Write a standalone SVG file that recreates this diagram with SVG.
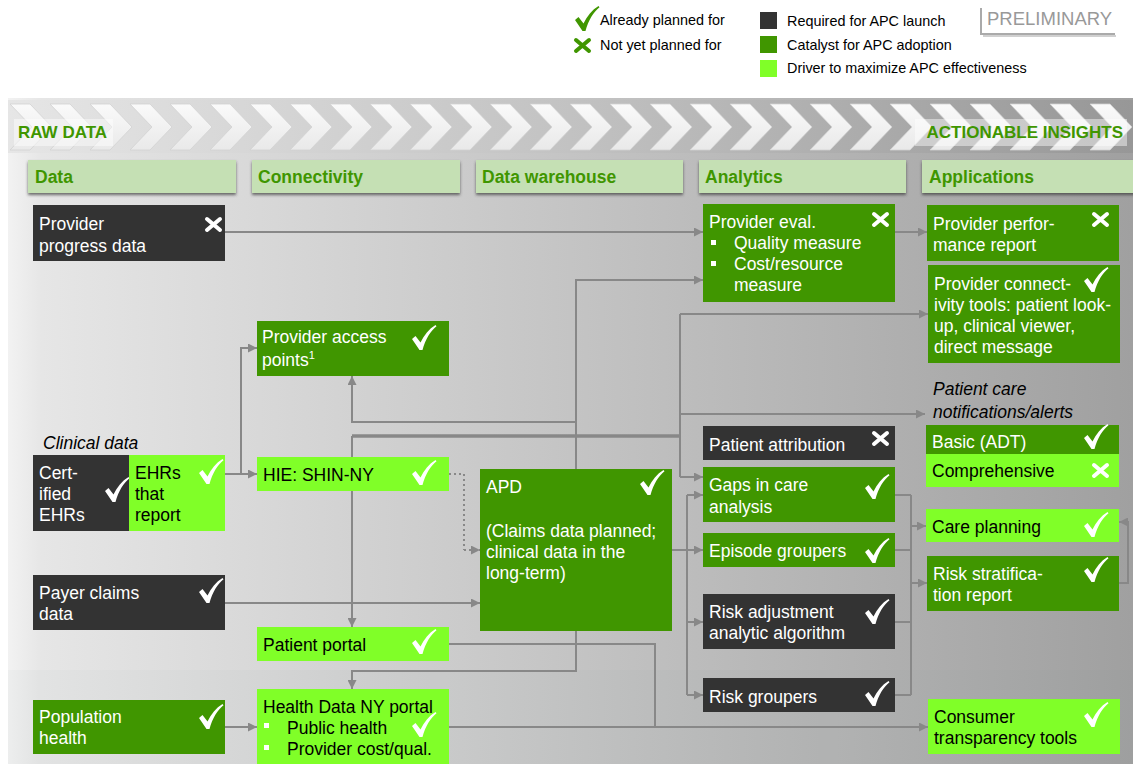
<svg xmlns="http://www.w3.org/2000/svg" xmlns:xlink="http://www.w3.org/1999/xlink" width="1133" height="764" viewBox="0 0 1133 764">
<defs>
<linearGradient id="gPanel" x1="0" y1="0" x2="1" y2="0">
<stop offset="0" stop-color="#f2f2f2"/>
<stop offset="0.03" stop-color="#e6e6e6"/>
<stop offset="0.5" stop-color="#c4c4c4"/>
<stop offset="1" stop-color="#a0a0a0"/>
</linearGradient>
<linearGradient id="gBand" x1="0" y1="0" x2="1" y2="0">
<stop offset="0" stop-color="#e6e6e6"/>
<stop offset="0.5" stop-color="#c2c2c2"/>
<stop offset="1" stop-color="#979797"/>
</linearGradient>
<linearGradient id="gChev" x1="0" y1="0" x2="0" y2="1">
<stop offset="0" stop-color="#fafafa"/>
<stop offset="1" stop-color="#e9e9e9"/>
</linearGradient>
<filter id="sh" x="-5%" y="-20%" width="110%" height="150%">
<feDropShadow dx="0" dy="2" stdDeviation="1.5" flood-color="#333" flood-opacity="0.7"/>
</filter>
<marker id="ah" markerWidth="9" markerHeight="9" refX="9" refY="4.5" orient="auto" markerUnits="userSpaceOnUse">
<path d="M0,0 L9,4.5 L0,9 Z" fill="#888"/>
</marker>
<path id="chk" d="M0,14 L3.5,11 L8.5,17.5 C12,10 17,4 23.5,0 L24.5,1.2 C18.5,6 13.5,14 10.5,25 L7.5,25 Z"/>
<path id="xm" d="M2,2 L15,13 M15,2 L2,13" fill="none" stroke-width="4" stroke-linecap="round"/>
</defs>
<style>
text{font-family:"Liberation Sans",Arial,Helvetica,sans-serif}
.n{font-size:17.5px}
.w{fill:#ffffff}
.b{fill:#000000}
.dk{fill:#333333}
.gr{fill:#409600}
.br{fill:#80ff28}
.hd{fill:#c5e0b4}
.ht{font-size:17.5px;font-weight:bold;fill:#3f9600}
.lg{font-size:14.4px;fill:#000}
.it{font-style:italic;font-size:17.5px;fill:#000}
.cw{fill:#ffffff}
.xw{stroke:#ffffff}
.c{fill:none;stroke:#888888;stroke-width:2}
.ca{fill:none;stroke:#888888;stroke-width:2;marker-end:url(#ah)}
</style>
<rect x="0" y="0" width="1133" height="764" fill="#ffffff"/>

<!-- legend -->
<g id="legend">
<use href="#chk" x="575" y="6" fill="#409600"/>
<text class="lg" x="600" y="25">Already planned for</text>
<use href="#xm" x="574" y="38" stroke="#409600"/>
<text class="lg" x="600" y="50">Not yet planned for</text>
<rect x="760" y="12" width="17" height="17" class="dk"/>
<rect x="760" y="36" width="17" height="17" class="gr"/>
<rect x="760" y="60" width="17" height="17" class="br"/>
<text class="lg" x="787" y="26">Required for APC launch</text>
<text class="lg" x="787" y="50">Catalyst for APC adoption</text>
<text class="lg" x="787" y="73">Driver to maximize APC effectiveness</text>
<path d="M981,8 V34 H1115" fill="none" stroke="#aaaaaa" stroke-width="2"/>
<path d="M983,36 H1116" fill="none" stroke="#d0d0d0" stroke-width="2"/>
<text x="987" y="25" style="font-size:18.5px;fill:#999999">PRELIMINARY</text>
</g>

<!-- background panel -->
<rect x="8" y="98" width="1125" height="666" fill="url(#gPanel)"/>
<rect x="8" y="670" width="1125" height="94" fill="#8090a0" opacity="0.04"/>
<rect x="8" y="100" width="1125" height="53" fill="url(#gBand)"/>
<g id="chevrons" fill="url(#gChev)" stroke="#d2d2d2" stroke-width="0.8">
<polygon points="10,104 30,104 52,127 30,150 10,150 32,127"/>
<polygon points="50,104 70,104 92,127 70,150 50,150 72,127"/>
<polygon points="90,104 110,104 132,127 110,150 90,150 112,127"/>
<polygon points="130,104 150,104 172,127 150,150 130,150 152,127"/>
<polygon points="170,104 190,104 212,127 190,150 170,150 192,127"/>
<polygon points="210,104 230,104 252,127 230,150 210,150 232,127"/>
<polygon points="250,104 270,104 292,127 270,150 250,150 272,127"/>
<polygon points="290,104 310,104 332,127 310,150 290,150 312,127"/>
<polygon points="330,104 350,104 372,127 350,150 330,150 352,127"/>
<polygon points="370,104 390,104 412,127 390,150 370,150 392,127"/>
<polygon points="410,104 430,104 452,127 430,150 410,150 432,127"/>
<polygon points="450,104 470,104 492,127 470,150 450,150 472,127"/>
<polygon points="490,104 510,104 532,127 510,150 490,150 512,127"/>
<polygon points="530,104 550,104 572,127 550,150 530,150 552,127"/>
<polygon points="570,104 590,104 612,127 590,150 570,150 592,127"/>
<polygon points="610,104 630,104 652,127 630,150 610,150 632,127"/>
<polygon points="650,104 670,104 692,127 670,150 650,150 672,127"/>
<polygon points="690,104 710,104 732,127 710,150 690,150 712,127"/>
<polygon points="730,104 750,104 772,127 750,150 730,150 752,127"/>
<polygon points="770,104 790,104 812,127 790,150 770,150 792,127"/>
<polygon points="810,104 830,104 852,127 830,150 810,150 832,127"/>
<polygon points="850,104 870,104 892,127 870,150 850,150 872,127"/>
<polygon points="890,104 910,104 932,127 910,150 890,150 912,127"/>
<polygon points="930,104 950,104 972,127 950,150 930,150 952,127"/>
<polygon points="970,104 990,104 1012,127 990,150 970,150 992,127"/>
<polygon points="1010,104 1030,104 1052,127 1030,150 1010,150 1032,127"/>
<polygon points="1050,104 1070,104 1092,127 1070,150 1050,150 1072,127"/>
<polygon points="1090,104 1110,104 1132,127 1110,150 1090,150 1112,127"/>
</g>
<rect x="14" y="119" width="99" height="27" fill="#ffffff" opacity="0.45"/>
<text x="18" y="138" style="font-size:17px;font-weight:bold;fill:#3f9600">RAW DATA</text>
<rect x="915" y="119" width="212" height="27" fill="#ffffff" opacity="0.45"/>
<text x="1123" y="138" text-anchor="end" style="font-size:17px;font-weight:bold;fill:#3f9600">ACTIONABLE INSIGHTS</text>

<!-- column headers -->
<g id="headers">
<g id="hdr-data"><rect x="28" y="160" width="208" height="33" class="hd" filter="url(#sh)"/><text class="ht" x="35" y="183">Data</text></g>
<g id="hdr-connectivity"><rect x="252" y="160" width="208" height="33" class="hd" filter="url(#sh)"/><text class="ht" x="258" y="183">Connectivity</text></g>
<g id="hdr-warehouse"><rect x="476" y="160" width="207" height="33" class="hd" filter="url(#sh)"/><text class="ht" x="482" y="183">Data warehouse</text></g>
<g id="hdr-analytics"><rect x="699" y="160" width="207" height="33" class="hd" filter="url(#sh)"/><text class="ht" x="705" y="183">Analytics</text></g>
<g id="hdr-applications"><rect x="922" y="160" width="215" height="33" class="hd" filter="url(#sh)"/><text class="ht" x="929" y="183">Applications</text></g>
</g>

<!-- connectors -->
<g id="connectors">
<path class="ca" d="M225,232 H703"/>
<path class="ca" d="M895,232 H927"/>
<path class="ca" d="M225,474 H257"/>
<path class="ca" d="M241,474 V348 H257"/>
<path class="c" d="M449,474 H464 V550" stroke-dasharray="2,3"/>
<path class="ca" d="M464,550 H480" stroke-dasharray="2,3"/>
<path class="c" d="M352,457 V436" />
<path d="M352,436 H680" fill="none" stroke="#888" stroke-width="3.5"/>
<path class="c" d="M680,314 V477"/>
<path class="ca" d="M680,477 H703"/>
<path class="ca" d="M680,314 H928"/>
<path class="ca" d="M680,414 H925"/>
<path class="ca" d="M352,491 V627"/>
<path class="ca" d="M576,469 V280 H703"/>
<path class="ca" d="M576,422 H352 V376"/>
<path class="ca" d="M225,603 H480"/>
<path class="c" d="M672,550 H687"/>
<path class="c" d="M687,495 V695"/>
<path class="ca" d="M687,495 H703"/>
<path class="ca" d="M687,550 H703"/>
<path class="ca" d="M687,622 H703"/>
<path class="ca" d="M687,695 H703"/>
<path class="c" d="M895,495 H911 M895,550 H911 M895,622 H911 M895,695 H911 M911,495 V695"/>
<path class="ca" d="M911,526 H926"/>
<path class="ca" d="M911,583 H927"/>
<path class="ca" d="M1119,583 H1128 V522 H1119"/>
<path class="ca" d="M576,631 V671 H352 V689"/>
<path class="c" d="M449,644 H655 V727"/>
<path class="ca" d="M449,727 H928"/>
<path class="ca" d="M225,727 H257"/>
</g>

<!-- Data column -->
<g id="node-provider-progress">
<rect x="33" y="205" width="192" height="56" class="dk"/>
<text class="n w" x="39" y="230">Provider</text>
<text class="n w" x="39" y="252">progress data</text>
<use href="#xm" x="205" y="217" class="xw"/>
</g>
<text class="it" x="43" y="449">Clinical data</text>
<g id="node-certified-ehrs">
<rect x="33" y="455" width="96" height="76" class="dk"/>
<text class="n w" x="39" y="479">Cert-</text>
<text class="n w" x="39" y="500">ified</text>
<text class="n w" x="39" y="521">EHRs</text>
<use href="#chk" x="105" y="477" class="cw"/>
</g>
<g id="node-ehrs-report">
<rect x="129" y="455" width="96" height="76" class="br"/>
<text class="n b" x="135" y="479">EHRs</text>
<text class="n b" x="135" y="500">that</text>
<text class="n b" x="135" y="521">report</text>
<use href="#chk" x="199" y="459" class="cw"/>
</g>
<g id="node-payer-claims">
<rect x="33" y="575" width="192" height="55" class="dk"/>
<text class="n w" x="39" y="599">Payer claims</text>
<text class="n w" x="39" y="620">data</text>
<use href="#chk" x="199" y="578" class="cw"/>
</g>
<g id="node-population-health">
<rect x="33" y="700" width="192" height="54" class="gr"/>
<text class="n w" x="39" y="723">Population</text>
<text class="n w" x="39" y="744">health</text>
<use href="#chk" x="199" y="704" class="cw"/>
</g>

<!-- Connectivity column -->
<g id="node-provider-access">
<rect x="257" y="321" width="192" height="55" class="gr"/>
<text class="n w" x="262" y="343">Provider access</text>
<text class="n w" x="262" y="366">points<tspan dy="-7" style="font-size:11px">1</tspan></text>
<use href="#chk" x="412" y="325" class="cw"/>
</g>
<g id="node-hie">
<rect x="257" y="457" width="192" height="34" class="br"/>
<text class="n b" x="263" y="481">HIE: SHIN-NY</text>
<use href="#chk" x="412" y="460" class="cw"/>
</g>
<g id="node-patient-portal">
<rect x="257" y="627" width="192" height="34" class="br"/>
<text class="n b" x="263" y="651">Patient portal</text>
<use href="#chk" x="412" y="629" class="cw"/>
</g>
<g id="node-health-data-ny">
<rect x="257" y="689" width="192" height="80" class="br"/>
<text class="n b" x="263" y="713">Health Data NY portal</text>
<rect x="264" y="723" width="5" height="5" fill="#fff"/>
<text class="n b" x="287" y="734">Public health</text>
<rect x="264" y="745" width="5" height="5" fill="#fff"/>
<text class="n b" x="287" y="755">Provider cost/qual.</text>
<use href="#chk" x="412" y="712" class="cw"/>
</g>

<!-- Data warehouse -->
<g id="node-apd">
<rect x="480" y="469" width="192" height="162" class="gr"/>
<text class="n w" x="486" y="493">APD</text>
<text class="n w" x="486" y="537">(Claims data planned;</text>
<text class="n w" x="486" y="558">clinical data in the</text>
<text class="n w" x="486" y="579">long-term)</text>
<use href="#chk" x="640" y="470" class="cw"/>
</g>

<!-- Analytics -->
<g id="node-provider-eval">
<rect x="703" y="204" width="192" height="98" class="gr"/>
<text class="n w" x="709" y="228">Provider eval.</text>
<rect x="711" y="240" width="5" height="5" fill="#fff"/>
<text class="n w" x="734" y="249">Quality measure</text>
<rect x="711" y="261" width="5" height="5" fill="#fff"/>
<text class="n w" x="734" y="270">Cost/resource</text>
<text class="n w" x="734" y="291">measure</text>
<use href="#xm" x="872" y="212" class="xw"/>
</g>
<g id="node-patient-attribution">
<rect x="703" y="426" width="192" height="34" class="dk"/>
<text class="n w" x="709" y="451">Patient attribution</text>
<use href="#xm" x="872" y="431" class="xw"/>
</g>
<g id="node-gaps-in-care">
<rect x="703" y="467" width="192" height="55" class="gr"/>
<text class="n w" x="709" y="491">Gaps in care</text>
<text class="n w" x="709" y="513">analysis</text>
<use href="#chk" x="865" y="474" class="cw"/>
</g>
<g id="node-episode-groupers">
<rect x="703" y="533" width="192" height="34" class="gr"/>
<text class="n w" x="709" y="557">Episode groupers</text>
<use href="#chk" x="865" y="538" class="cw"/>
</g>
<g id="node-risk-adjustment">
<rect x="703" y="594" width="192" height="55" class="dk"/>
<text class="n w" x="709" y="618">Risk adjustment</text>
<text class="n w" x="709" y="639">analytic algorithm</text>
<use href="#chk" x="865" y="599" class="cw"/>
</g>
<g id="node-risk-groupers">
<rect x="703" y="678" width="192" height="34" class="dk"/>
<text class="n w" x="709" y="703">Risk groupers</text>
<use href="#chk" x="865" y="681" class="cw"/>
</g>

<!-- Applications -->
<g id="node-provider-performance">
<rect x="927" y="205" width="192" height="56" class="gr"/>
<text class="n w" x="933" y="230">Provider perfor-</text>
<text class="n w" x="933" y="251">mance report</text>
<use href="#xm" x="1092" y="212" class="xw"/>
</g>
<g id="node-provider-connectivity">
<rect x="928" y="265" width="192" height="98" class="gr"/>
<text class="n w" x="934" y="290">Provider connect-</text>
<text class="n w" x="934" y="311">ivity tools: patient look-</text>
<text class="n w" x="934" y="332">up, clinical viewer,</text>
<text class="n w" x="934" y="353">direct message</text>
<use href="#chk" x="1084" y="267" class="cw"/>
</g>
<text class="it" x="933" y="395">Patient care</text>
<text class="it" x="933" y="418">notifications/alerts</text>
<g id="node-basic-adt">
<rect x="926" y="425" width="193" height="29" class="gr"/>
<text class="n w" x="932" y="448">Basic (ADT)</text>
<use href="#chk" x="1084" y="424" class="cw"/>
</g>
<g id="node-comprehensive">
<rect x="926" y="454" width="193" height="33" class="br"/>
<text class="n b" x="932" y="477">Comprehensive</text>
<use href="#xm" x="1092" y="463" class="xw"/>
</g>
<g id="node-care-planning">
<rect x="926" y="509" width="193" height="33" class="br"/>
<text class="n b" x="932" y="533">Care planning</text>
<use href="#chk" x="1084" y="512" class="cw"/>
</g>
<g id="node-risk-stratification">
<rect x="927" y="556" width="192" height="55" class="gr"/>
<text class="n w" x="933" y="580">Risk stratifica-</text>
<text class="n w" x="933" y="601">tion report</text>
<use href="#chk" x="1084" y="557" class="cw"/>
</g>
<g id="node-consumer-transparency">
<rect x="928" y="699" width="192" height="55" class="br"/>
<text class="n b" x="934" y="723">Consumer</text>
<text class="n b" x="934" y="744">transparency tools</text>
<use href="#chk" x="1084" y="702" class="cw"/>
</g>
</svg>
